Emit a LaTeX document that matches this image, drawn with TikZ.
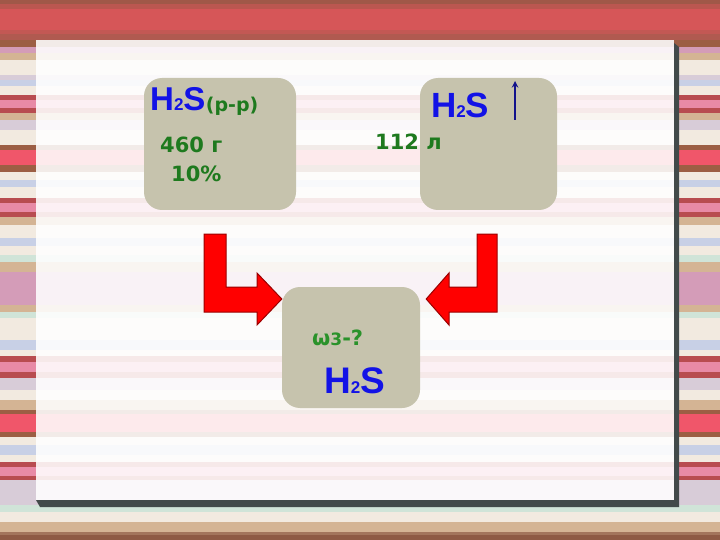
\documentclass[tikz,border=0pt]{standalone}
\usepackage{fontspec}
\usepackage{tikz}
\usetikzlibrary{arrows}
\newfontfamily\formfont{Liberation Sans}
\newfontfamily\datafont{DejaVu Sans}
\definecolor{stBrown}{HTML}{9C5E44}
\definecolor{stPink}{HTML}{E88AA6}
\definecolor{stRed}{HTML}{F0566A}
\definecolor{stRedDk}{HTML}{B84C50}
\definecolor{stTan}{HTML}{D4B494}
\definecolor{stCream}{HTML}{F2EAE0}
\definecolor{stBlue}{HTML}{C8D0E6}
\definecolor{stLav}{HTML}{D8CCD8}
\definecolor{stMint}{HTML}{D0E4D8}
\definecolor{stMauve}{HTML}{D49CB8}
\definecolor{bandTop}{HTML}{A05848}
\definecolor{bandMid}{HTML}{D65658}
\definecolor{bandLow}{HTML}{B05A50}
\definecolor{footBrown}{HTML}{8E5A44}
\definecolor{panelShadow}{HTML}{424A4A}
\definecolor{boxgray}{HTML}{C6C3AD}
\definecolor{formblue}{HTML}{1212E6}
\definecolor{datagreen}{HTML}{1E7A1E}
\definecolor{askgreen}{HTML}{2A922A}
\definecolor{gasblue}{HTML}{12128C}
\definecolor{arrowred}{HTML}{FF0000}
\definecolor{arrowdark}{HTML}{9A0000}
\tikzstyle{chembox} = [rectangle, rounded corners=18pt, inner sep=0pt, fill=boxgray]
\tikzstyle{formula} = [anchor=base west, inner sep=0pt, text=formblue, font=\formfont\bfseries\fontsize{35}{35}\selectfont]
\tikzstyle{datatext} = [anchor=base west, inner sep=0pt, text=datagreen, font=\datafont\bfseries\fontsize{21}{21}\selectfont]
\tikzstyle{blockarrow} = [fill=arrowred, draw=arrowdark, line width=1pt, line join=miter]
\tikzstyle{gasarrow} = [line width=1.9pt, ->, >=stealth, draw=gasblue]
\newcommand{\smallidx}[1]{{\fontsize{17}{17}\selectfont #1}}

\begin{document}
\begin{tikzpicture}[x=1pt, y=-1pt]
	\useasboundingbox (0,0) rectangle (720,540);

		% Draw the background
		\fill[stCream] (0,0) rectangle (720,540);
		\foreach \ya/\yb/\col in {40/47/stBrown, 47/53/stMauve, 53/60/stTan, 75/80/stLav, 80/86/stBlue,
			95/100/stRedDk, 100/108/stPink, 108/113/stRedDk, 113/120/stTan, 120/130/stLav,
			145/150/stBrown, 150/165/stRed, 165/172/stBrown, 180/187/stBlue,
			198/203/stRedDk, 203/212/stPink, 212/217/stRedDk, 217/225/stTan, 238/246/stBlue,
			255/262/stMint, 262/272/stTan, 272/305/stMauve, 305/312/stTan, 312/318/stMint,
			340/350/stBlue, 356/362/stRedDk, 362/372/stPink, 372/378/stRedDk, 378/390/stLav,
			400/410/stTan, 410/414/stBrown, 414/432/stRed, 432/437/stBrown, 445/455/stBlue,
			462/467/stRedDk, 467/476/stPink, 476/480/stRedDk, 480/505/stLav, 505/512/stMint,
			522/528/stTan}
			\fill[\col] (0,\ya) rectangle (720,\yb);
		\fill[bandMid] (0,0) rectangle (720,40);
		\fill[bandTop] (0,0) rectangle (720,4);
		\fill[bandTop!50!bandMid] (0,4) rectangle (720,9);
		\fill[bandLow] (0,34) rectangle (720,40);
		\fill[bandLow!50!bandMid] (0,30) rectangle (720,34);
		\fill[stTan] (0,528) rectangle (720,532);
		\fill[footBrown!70!stTan] (0,532) rectangle (720,535);
		\fill[footBrown] (0,535) rectangle (720,540);
		\fill[panelShadow] (674,43) -- (679,47) -- (679,507) -- (40,507) -- (36,500) -- (674,500) -- cycle;
		\fill[white, opacity=0.88] (36,40) rectangle (674,500);

		% Draw the nodes
		\node (solution) [chembox, minimum width=152pt, minimum height=132pt] at (220,144) {};
		\node (gas) [chembox, minimum width=137pt, minimum height=132pt] at (488.5,144) {};
		\node (result) [chembox, minimum width=138pt, minimum height=121pt] at (351,347.5) {};

		\node (formA) [formula, font=\formfont\bfseries\fontsize{33}{33}\selectfont] at (150,111) {H\smallidx{2}S};
		\node (phaseA) [datatext, font=\datafont\bfseries\fontsize{19}{19}\selectfont] at ([yshift=-1pt]formA.base east) {(р-р)};
		\node (massA) [datatext] at (160,153) {460 г};
		\node (fracA) [datatext] at (171,182) {10\%};

		\node (formB) [formula] at (431,118) {H\smallidx{2}S};
		\node (volB) [datatext] at (375,150) {112 л};
		\coordinate (gasFoot) at (515,120);
		\coordinate (gasTip) at (515,81);

		\node (askC) [datatext, text=askgreen, font=\datafont\bfseries\fontsize{21}{21}\selectfont] at (312,345) {ω\smallidx{3}-?};
		\node (formC) [formula, font=\formfont\bfseries\fontsize{37}{37}\selectfont] at (324,393) {H\smallidx{2}S};

		%Draw the arrows
		\draw [gasarrow] (gasFoot) -- (gasTip);
		\draw [blockarrow] (204,234) -- (226,234) -- (226,287) -- (257,287) -- (257,273)
			-- (result.west |- 0,299) -- (257,325) -- (257,312) -- (204,312) -- cycle;
		\draw [blockarrow] (497,234) -- (477,234) -- (477,287) -- (449,287) -- (449,273)
			-- ([xshift=6pt]result.east |- 0,299) -- (449,325) -- (449,312) -- (497,312) -- cycle;

\end{tikzpicture}
\end{document}
